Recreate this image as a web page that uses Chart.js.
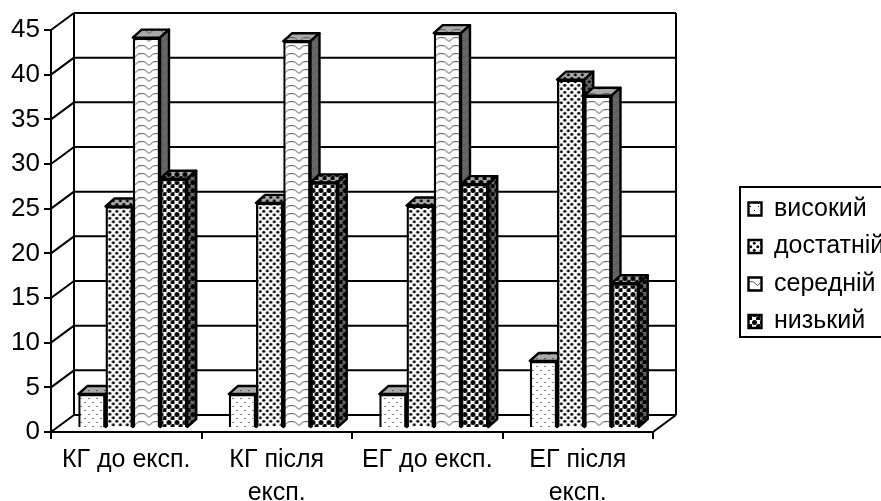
<!DOCTYPE html>
<html><head><meta charset="utf-8">
<style>html,body{margin:0;padding:0;background:#fff;overflow:hidden}canvas{display:block}</style>
<script src="https://cdn.jsdelivr.net/npm/chart.js@4"></script></head>
<body><canvas id="c" width="881" height="501"></canvas>
<script>
const categories = ['КГ до експ.', ['КГ після','експ.'], 'ЕГ до експ.', ['ЕГ після','експ.']];
const seriesNames = ['високий','достатній','середній','низький'];
const vysokyi = [3.8, 3.8, 3.8, 7.5];
const dostatnii = [24.8, 25.2, 24.9, 39];
const serednii = [43.7, 43.3, 44.2, 37.2];
const nyzkyi = [27.9, 27.5, 27.3, 16.2];
const yTicks = [0,5,10,15,20,25,30,35,40,45];

const WALL = {dx:23, dy:-17}, BAR = {dx:6.5, dy:-4}, DEPTH = {dx:9, dy:-8};

function pat(w,h,bg,draw){
  const c=document.createElement('canvas');c.width=w;c.height=h;
  const g=c.getContext('2d');g.fillStyle=bg;g.fillRect(0,0,w,h);g.fillStyle='#000';g.strokeStyle='#000';draw(g);
  return g.createPattern(c,'repeat');
}
function dots(g,pts,r){pts.forEach(p=>{g.beginPath();g.arc(p[0],p[1],r,0,7);g.fill();});}
const drawers = [
  g=>{g.fillRect(2,2,1,1);g.fillRect(6,6,1,1);},
  g=>dots(g,[[1.75,1.75],[5.25,5.25]],1.5),
  g=>{g.lineWidth=1;g.strokeStyle='#555';g.beginPath();g.moveTo(0,1.5);g.lineTo(3.5,2);g.lineTo(7.5,5.5);g.lineTo(11.5,2);g.lineTo(15,1.5);g.stroke();},
  g=>dots(g,[[2.5,2.5],[6.5,6.5]],2.5)
];
const sizes=[[8,8],[7,7],[15,8],[8,8]];
const fronts=drawers.map((d,i)=>pat(sizes[i][0],sizes[i][1],'#fff',d));
const sides=drawers.map((d,i)=>pat(sizes[i][0],sizes[i][1],'#666',d));
const tops=drawers.map((d,i)=>pat(sizes[i][0],sizes[i][1],'#aaa',d));

function line(ctx,x1,y1,x2,y2){ctx.beginPath();ctx.moveTo(x1,y1);ctx.lineTo(x2,y2);ctx.stroke();}
function poly(ctx,pts,fill){ctx.beginPath();pts.forEach((p,i)=>i?ctx.lineTo(p[0],p[1]):ctx.moveTo(p[0],p[1]));ctx.closePath();ctx.fillStyle=fill;ctx.fill();ctx.stroke();}

const plugin3d = {
  id:'plugin3d',
  afterLayout(chart){
    const l=chart.legend; if(!l) return;
    const w=l.width,h=l.height;
    l.left=736;l.right=736+w;l.top=184;l.bottom=184+h;
  },
  beforeDatasetsDraw(chart){
    const {ctx,chartArea:a,scales:{y}}=chart;
    ctx.save();ctx.strokeStyle='#000';ctx.lineWidth=2;
    yTicks.forEach(v=>{
      const p=y.getPixelForValue(v);
      line(ctx,a.left,p,a.left+WALL.dx,p+WALL.dy);
      line(ctx,a.left+WALL.dx,p+WALL.dy,a.right+WALL.dx,p+WALL.dy);
    });
    line(ctx,a.left+WALL.dx,a.top+WALL.dy,a.left+WALL.dx,a.bottom+WALL.dy);
    line(ctx,a.right+WALL.dx,a.top+WALL.dy,a.right+WALL.dx,a.bottom+WALL.dy);
    line(ctx,a.right,a.bottom,a.right+WALL.dx,a.bottom+WALL.dy);
    ctx.translate(BAR.dx,BAR.dy);
    ctx.lineJoin='round';
    ctx.lineWidth=2.4;
    seriesNames.forEach((n,i)=>{
      const meta=chart.getDatasetMeta(i);
      meta.data.forEach(b=>{
        const L=b.x-b.width/2,R=b.x+b.width/2,T=b.y,B=b.base;
        poly(ctx,[[L,T],[R,T],[R+DEPTH.dx,T+DEPTH.dy],[L+DEPTH.dx,T+DEPTH.dy]],tops[i]);
        poly(ctx,[[R,T],[R+DEPTH.dx,T+DEPTH.dy],[R+DEPTH.dx,B+DEPTH.dy],[R,B]],sides[i]);
      });
      meta.controller.draw();
    });
    ctx.restore();
    return false;
  },
  afterDraw(chart){
    const {ctx}=chart;
    ctx.save();ctx.strokeStyle='#000';ctx.lineWidth=2;
    ctx.strokeRect(740,187,160,150);
    ctx.restore();
  }
};

const seriesValues=[vysokyi,dostatnii,serednii,nyzkyi];
const chart=new Chart(document.getElementById('c'),{
  type:'bar',
  data:{labels:categories,datasets:seriesNames.map((n,i)=>({
    label:n,data:seriesValues[i],backgroundColor:fronts[i],borderColor:'#000',borderWidth:2.4,clip:false,
    categoryPercentage:0.724,barPercentage:1
  }))},
  options:{
    responsive:false,animation:false,
    layout:{padding:{left:0,top:30,bottom:0,right:0}},
    scales:{
      x:{
        afterFit(s){s.height=69;},
        grid:{drawOnChartArea:false,color:'#000',lineWidth:2,tickLength:7},
        border:{color:'#000',width:2},
        ticks:{color:'#000',font:{family:'Liberation Sans',size:25,lineHeight:1.32},maxRotation:0,autoSkip:false,padding:5}
      },
      y:{
        min:0,max:45,
        afterFit(s){s.width=51;},
        afterBuildTicks(s){s.ticks=yTicks.map(v=>({value:v}));},
        grid:{drawOnChartArea:false,color:'#000',lineWidth:2,tickLength:7},
        border:{color:'#000',width:2},
        ticks:{color:'#000',font:{family:'Liberation Sans',size:26},padding:4}
      }
    },
    plugins:{
      tooltip:{enabled:false},
      legend:{position:'right',align:'start',
        labels:{color:'#000',font:{family:'Liberation Sans',size:25},boxWidth:13,boxHeight:13,padding:12.5}}
    }
  },
  plugins:[plugin3d]
});
chart.options.layout.padding.right=228-chart.legend.width;
chart.update();
</script></body></html>
